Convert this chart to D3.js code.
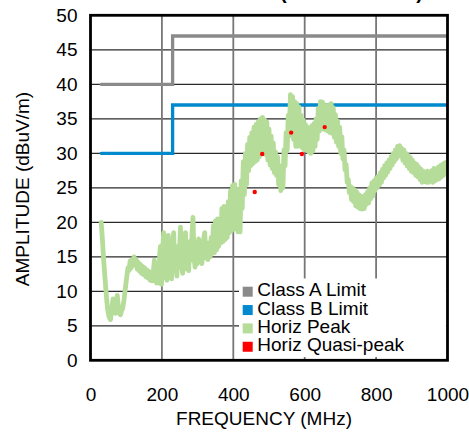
<!DOCTYPE html>
<html>
<head>
<meta charset="utf-8">
<script src="https://cdn.jsdelivr.net/npm/d3@7/dist/d3.min.js"></script>
<style>
  html, body { margin: 0; padding: 0; background: #fff; }
  svg { display: block; }
  text { font-family: "Liberation Sans", Arial, sans-serif; fill: #000; }
</style>
</head>
<body>
<svg id="chart" width="469" height="432"></svg>
<script>
// ---------- data ----------
const chartTitle = "RADIATED EMISSIONS (HORIZONTAL)";
const xTicks = [0, 200, 400, 600, 800, 1000];
const yTicks = [0, 5, 10, 15, 20, 25, 30, 35, 40, 45, 50];
const xLabel = "FREQUENCY (MHz)";
const yLabel = "AMPLITUDE (dBuV/m)";
const seriesNames = ["Class A Limit", "Class B Limit", "Horiz Peak", "Horiz Quasi-peak"];
const seriesColors = ["#8a8a8a", "#0089cc", "#b5dc98", "#ff0000"];

// limit lines [MHz, dBuV/m]
const classALimit = [[30, 40], [230, 40], [230, 47], [1000, 47]];
const classBLimit = [[30, 30], [230, 30], [230, 37], [1000, 37]];

// quasi-peak points [MHz, dBuV/m]
const horizQuasiPeak = [[460, 24.4], [481, 29.9], [562, 33.0], [592, 29.9], [656, 33.8]];

// peak trace [MHz, dBuV/m]
const horizPeak = [
  [30,20.0],[33,17.8],[36,15.3],[39,13.0],[42,11.0],[45,9.0],[48,7.4],[52,6.3],[56,5.9],[60,7.5],
  [63,8.9],[66,7.8],[70,6.8],[73,8.5],[75,9.4],[78,7.8],[81,6.8],[84,6.6],[87,7.2],[90,7.5],
  [94,8.8],[98,10.6],[102,12.3],[105,13.4],[108,13.0],[111,14.4],[114,13.4],[117,14.6],[120,13.8],[122,15.0],
  [125,13.8],[128,14.6],[131,13.2],[134,14.2],[137,12.9],[140,13.9],[143,12.6],[146,13.6],[149,12.4],[152,13.4],
  [155,12.1],[158,13.1],[161,11.9],[164,12.9],[167,11.6],[170,12.6],[173,11.5],[176,12.8],[179,14.5],[182,11.8],
  [185,11.2],[188,12.0],[191,11.2],[194,15.5],[196,16.5],[199,11.0],
  [202,16.0],[205,18.5],[208,12.0],[211,15.5],[214,11.6],[218,18.1],[221,12.5],[224,15.0],[227,11.8],[230,16.2],
  [233,18.5],[236,13.0],[239,15.8],[242,12.2],[245,16.5],[248,13.5],[252,19.3],[255,14.0],[258,12.6],[261,16.8],
  [264,13.4],[266,18.5],[269,13.2],[272,16.0],[275,13.0],[278,17.2],[281,14.5],[284,18.0],[287,20.7],[290,15.0],
  [293,13.5],[296,17.0],[299,14.0],
  [303,17.6],[306,14.5],[309,16.5],[312,14.0],[316,17.2],[320,18.5],[323,14.8],[326,17.0],[329,14.6],[332,17.0],
  [335,15.0],[338,17.8],[341,15.5],[344,19.5],[347,15.6],[350,20.2],[353,16.0],[356,20.5],[359,16.5],[362,20.0],
  [365,17.0],[368,22.0],[371,17.2],[374,22.3],[377,17.5],[380,21.8],[383,17.8],[386,23.0],[389,18.5],[392,24.5],
  [395,18.8],[398,25.3],[401,19.0],[404,25.5],[407,19.5],[410,24.8],[413,18.6],[416,24.5],[419,18.6],[422,26.0],
  [425,22.0],[428,28.8],[431,24.0],[434,30.0],[437,25.5],[440,31.3],[443,27.5],[446,32.3],[449,28.2],[452,33.0],
  [455,28.5],[458,33.8],[461,28.8],[464,34.2],[467,29.0],[470,34.6],[473,29.5],[476,35.0],[479,30.0],[482,35.2],
  [485,30.0],[488,34.8],[491,29.8],[494,34.5],[497,29.0],[500,33.5],[503,28.3],[506,32.5],[509,27.8],[512,31.5],
  [515,27.2],[518,30.2],[521,26.8],[524,29.5],[527,25.5],[530,28.2],[533,24.6],[536,27.0],[539,25.0],[542,30.5],
  [545,28.2],[548,33.0],[551,30.5],[554,35.5],[557,32.5],[560,38.5],
  [563,33.5],[566,38.2],[569,32.0],[572,37.5],[575,31.0],[578,37.2],[581,31.0],[584,36.7],[587,31.2],[590,35.5],
  [593,30.8],[596,34.8],[599,30.5],[602,34.2],[605,30.8],[608,33.8],[611,30.2],[614,33.5],[617,30.0],[620,34.0],
  [623,30.3],[626,34.3],[629,31.0],[632,35.0],[635,32.0],[638,36.5],[641,33.2],[644,37.5],[647,33.8],[650,37.4],
  [653,33.5],[656,37.0],[659,33.4],[662,36.2],[665,33.2],[668,37.0],[671,33.0],[674,37.2],[677,32.9],[680,36.6],
  [683,32.3],[686,35.6],[689,31.6],[692,34.7],[695,31.0],[698,33.8],[701,30.0],[704,32.4],[707,29.2],[710,30.5],
  [713,27.6],[716,28.4],[719,25.8],[722,26.2],[725,24.3],[728,25.2],[731,23.3],[734,25.0],[737,23.0],[740,24.7],
  [743,22.4],[746,24.4],[749,22.2],[752,24.0],[755,22.0],[758,23.8],[761,21.9],[764,23.6],[767,22.0],[770,24.0],
  [773,22.6],[776,24.4],[779,22.8],[782,25.0],[785,23.4],[788,25.7],[791,23.8],[794,26.0],[797,24.6],[800,26.4],
  [803,25.0],[806,26.7],[809,25.4],[812,27.2],[815,25.8],[818,27.7],[821,26.4],[824,28.2],[827,26.8],[830,28.6],
  [833,27.3],[836,29.0],[839,27.8],[842,29.5],[845,28.3],[848,30.0],[851,28.8],[854,30.5],[857,29.2],[860,31.0],
  [863,29.6],[866,31.1],[869,29.6],[872,30.7],[875,29.0],[878,30.5],[881,28.6],[884,30.0],[887,28.2],[890,29.7],
  [893,27.8],[896,29.4],[899,27.4],[902,29.0],[905,27.2],[908,28.6],[911,26.8],[914,28.4],[917,26.6],[920,28.0],
  [923,26.2],[926,27.7],[929,25.8],[932,27.4],[935,25.9],[938,27.2],[941,25.8],[944,27.4],[947,25.8],[950,27.2],
  [953,26.0],[956,27.5],[959,25.8],[962,27.8],[965,26.0],[968,27.7],[971,26.2],[974,28.0],[977,26.3],[980,28.2],
  [983,26.6],[986,28.4],[989,26.8],[992,28.6],[995,27.3],[998,28.7],[1000,28.0]
];

// ---------- layout ----------
const plot = { left: 90.5, right: 447.5, top: 15.3, bottom: 360.3 };
const svg = d3.select("#chart");
const x = d3.scaleLinear().domain([0, 1000]).range([plot.left, plot.right]);
const y = d3.scaleLinear().domain([0, 50]).range([plot.bottom, plot.top]);
const FONT = 19;

// title (mostly cut off at top in the reference)
svg.append("text").attr("x", 423).attr("y", -1.5).attr("text-anchor", "end")
  .style("font-size", "20px").style("font-weight", "bold").text(chartTitle);

// grid
const grid = svg.append("g");
grid.selectAll("line.h").data(yTicks.filter(d => d > 0 && d < 50)).join("line")
  .attr("x1", plot.left).attr("x2", plot.right)
  .attr("y1", d => y(d)).attr("y2", d => y(d))
  .attr("stroke", "#2a2a2a").attr("stroke-width", 1.3);
grid.selectAll("line.v").data(xTicks.filter(d => d > 0 && d < 1000)).join("line")
  .attr("x1", d => x(d)).attr("x2", d => x(d))
  .attr("y1", plot.top).attr("y2", plot.bottom)
  .attr("stroke", "#777").attr("stroke-width", 1.8);

// clip
svg.append("clipPath").attr("id", "clip").append("rect")
  .attr("x", plot.left).attr("y", plot.top)
  .attr("width", plot.right - plot.left).attr("height", plot.bottom - plot.top);

const line = d3.line().x(d => x(d[0])).y(d => y(d[1]));
const g = svg.append("g").attr("clip-path", "url(#clip)");

g.append("path").datum(classALimit).attr("d", line).attr("fill", "none")
  .attr("stroke", seriesColors[0]).attr("stroke-width", 3.3)
  .attr("stroke-linecap", "round").attr("stroke-linejoin", "miter");
g.append("path").datum(classBLimit).attr("d", line).attr("fill", "none")
  .attr("stroke", seriesColors[1]).attr("stroke-width", 3.3)
  .attr("stroke-linecap", "round").attr("stroke-linejoin", "miter");
g.append("path").datum(horizPeak).attr("d", line).attr("fill", "none")
  .attr("stroke", seriesColors[2]).attr("stroke-width", 4.8)
  .attr("stroke-linecap", "round").attr("stroke-linejoin", "round");
g.selectAll("circle.qp").data(horizQuasiPeak).join("circle")
  .attr("cx", d => x(d[0])).attr("cy", d => y(d[1])).attr("r", 2.2)
  .attr("fill", seriesColors[3]);

// legend
const lg = svg.append("g");
lg.append("rect").attr("x", 239).attr("y", 278.5).attr("width", plot.right - 1.5 - 239)
  .attr("height", 357 - 278.5).attr("fill", "#fff");
seriesNames.forEach((name, i) => {
  const cy = 291.7 + i * 18.35;
  lg.append("rect").attr("x", 242.7).attr("y", cy - 5).attr("width", 10).attr("height", 10)
    .attr("fill", seriesColors[i]);
  lg.append("text").attr("x", 257.3).attr("y", cy + 4.5)
    .style("font-size", FONT + "px").text(name);
});

// frame
svg.append("rect").attr("x", plot.left).attr("y", plot.top)
  .attr("width", plot.right - plot.left).attr("height", plot.bottom - plot.top)
  .attr("fill", "none").attr("stroke", "#000").attr("stroke-width", 2.8);

// axes (labels only; the frame carries the lines)
const yAxis = svg.append("g").attr("transform", `translate(${plot.left},0)`)
  .call(d3.axisLeft(y).tickValues(yTicks).tickSize(0).tickPadding(13).tickFormat(d3.format("d")));
yAxis.select(".domain").remove();
yAxis.selectAll("text").style("font-size", FONT + "px")
  .style("font-family", '"Liberation Sans", Arial, sans-serif').attr("fill", "#000");

const xAxis = svg.append("g").attr("transform", `translate(0,${plot.bottom})`)
  .call(d3.axisBottom(x).tickValues(xTicks).tickSize(0).tickPadding(27).tickFormat(d3.format("d")));
xAxis.select(".domain").remove();
xAxis.selectAll("text").style("font-size", FONT + "px")
  .style("font-family", '"Liberation Sans", Arial, sans-serif').attr("fill", "#000");

svg.append("text").attr("x", 264).attr("y", 425).attr("text-anchor", "middle")
  .style("font-size", FONT + "px").text(xLabel);
svg.append("text").attr("transform", "translate(28.5,189) rotate(-90)")
  .attr("text-anchor", "middle").style("font-size", FONT + "px").text(yLabel);
</script>
</body>
</html>
